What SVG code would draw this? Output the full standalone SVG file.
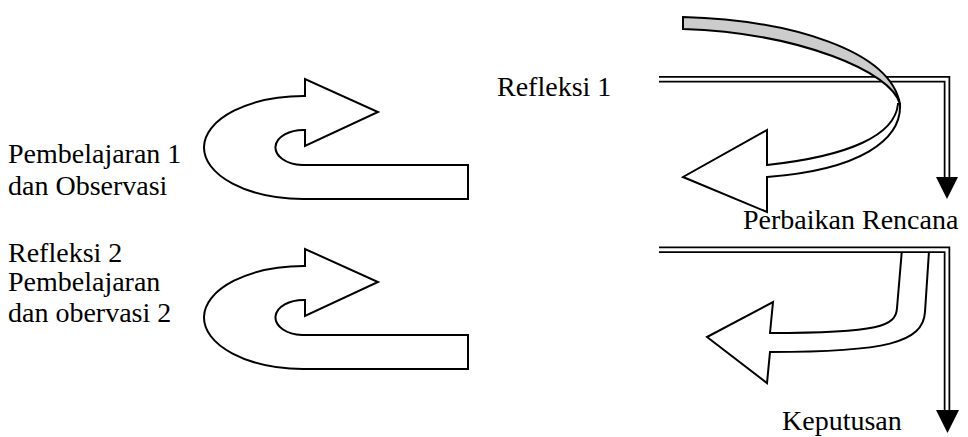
<svg xmlns="http://www.w3.org/2000/svg" width="968" height="437" viewBox="0 0 968 437">
<style>
  text { font-family: "Liberation Serif", "Times New Roman", serif; font-size: 28px; fill: #000; }
  .shape { fill: #fff; stroke: #000; stroke-width: 2; stroke-linejoin: miter; }
  .grey { fill: #cccccc; stroke: #000; stroke-width: 2; }
  .dbl-outer { fill: none; stroke: #000; stroke-width: 6.5; stroke-linejoin: miter; }
  .dbl-inner { fill: none; stroke: #fff; stroke-width: 3; stroke-linejoin: miter; }
  .head { fill: #000; stroke: none; }
</style>
<defs>
  <path id="uarrow" d="M305,96 L305,79 L378,112 L305,146 L305,130 A28 17.5 0 0 0 302,165 L468,165 L468,199 L303,199 A100 51.5 0 0 1 305,96 Z"/>
</defs>
<rect width="968" height="437" fill="#fff"/>

<g id="cycle1-arrow">
  <use href="#uarrow" class="shape"/>
</g>
<g id="cycle2-arrow">
  <use href="#uarrow" class="shape" transform="translate(0,170)"/>
</g>

<g id="connectors">
  <polyline class="dbl-outer" points="659,79.2 947,79.2 947,178"/>
  <polyline class="dbl-inner" points="659,79.2 947,79.2 947,178"/>
  <polygon class="head" points="936,177 958,177 947,199"/>
  <path class="shape" d="M902,249 L929,251 L925,312 C923,343 885,352 770,352 L767,383 L707,337 L773,302 L770,333 C880,333 896,326 897,308 Z"/>
  <polyline class="dbl-outer" points="659,249.7 947,249.7 947,411"/>
  <polyline class="dbl-inner" points="659,249.7 947,249.7 947,411"/>
  <polygon class="head" points="936,410 959,410 947.5,433"/>
</g>

<g id="reflection-arrow">
  <path class="shape" d="M900,104 C902,140 860,170 767,177 L767,212 L683,177 L767,130 L767,165 C850,156 895,135 898,104 Z"/>
  <path class="grey" d="M683,17 C790,20 890,50 900,104 C892,72 800,33 683,29 Z"/>
</g>

<g id="labels">
  <text x="497" y="96">Refleksi 1</text>
  <text x="8" y="163">Pembelajaran 1</text>
  <text x="8" y="195">dan Observasi</text>
  <text x="743" y="229">Perbaikan Rencana</text>
  <text x="8" y="262">Refleksi 2</text>
  <text x="8" y="291">Pembelajaran</text>
  <text x="8" y="322">dan obervasi 2</text>
  <text x="782" y="430">Keputusan</text>
</g>
</svg>
